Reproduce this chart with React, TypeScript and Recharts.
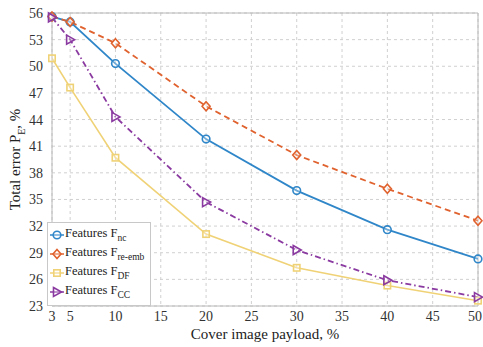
import { CartesianGrid, Line, LineChart, ReferenceLine, XAxis, YAxis } from "recharts";

const payload = [3, 5, 10, 20, 30, 40, 50];
const errNc = [55.6, 55.0, 50.3, 41.8, 36.0, 31.6, 28.3];
const errReEmb = [55.6, 55.0, 52.6, 45.5, 40.0, 36.2, 32.6];
const errDF = [50.9, 47.6, 39.7, 31.1, 27.3, 25.3, 23.6];
const errCC = [55.5, 53.0, 44.3, 34.7, 29.3, 25.9, 24.0];
const xTicks = [3, 5, 10, 15, 20, 25, 30, 35, 40, 45, 50];
const yTicks = [23, 26, 29, 32, 35, 38, 41, 44, 47, 50, 53, 56];

const data = payload.map((p, i) => ({
  payload: p,
  nc: errNc[i],
  reEmb: errReEmb[i],
  df: errDF[i],
  cc: errCC[i],
}));

const FONT = "'Liberation Serif', 'DejaVu Serif', serif";

type Shape = "circle" | "diamond" | "square" | "triangle";

const series: Array<{ key: string; sub: string; color: string; dash?: string; shape: Shape }> = [
  { key: "nc", sub: "nc", color: "#2f86c8", shape: "circle" },
  { key: "reEmb", sub: "re-emb", color: "#e0622e", dash: "6 4", shape: "diamond" },
  { key: "df", sub: "DF", color: "#f0d276", shape: "square" },
  { key: "cc", sub: "CC", color: "#8a3aa0", dash: "6 3 1.5 3", shape: "triangle" },
];

function Marker({ cx, cy, shape, color }: { cx: number; cy: number; shape: Shape; color: string }) {
  if (cx == null || cy == null) return null;
  const common = { fill: "#fff", fillOpacity: 0.3, stroke: color, strokeWidth: 1.6 };
  if (shape === "circle") return <circle cx={cx} cy={cy} r={3.8} {...common} />;
  if (shape === "diamond")
    return <polygon points={`${cx},${cy - 4.5} ${cx + 4},${cy} ${cx},${cy + 4.5} ${cx - 4},${cy}`} {...common} />;
  if (shape === "square") return <rect x={cx - 3.2} y={cy - 3.2} width={6.4} height={6.4} {...common} />;
  return <polygon points={`${cx - 3.5},${cy - 4.5} ${cx + 4.5},${cy} ${cx - 3.5},${cy + 4.5}`} {...common} />;
}

function LegendBox() {
  return (
    <div
      style={{
        position: "absolute",
        left: 47,
        top: 222,
        border: "1px solid #c8c8c8",
        background: "#fff",
        padding: "2px 6px 4px 2px",
        fontFamily: FONT,
        fontSize: 12.5,
        color: "#222",
        whiteSpace: "nowrap",
        lineHeight: 1,
      }}
    >
      {series.map((s) => (
        <div key={s.key} style={{ display: "flex", alignItems: "center", height: 19 }}>
          <svg width={14} height={12} style={{ marginRight: 1 }}>
            <line x1={0} y1={6} x2={14} y2={6} stroke={s.color} strokeWidth={1.5} />
            <Marker cx={7} cy={6} shape={s.shape} color={s.color} />
          </svg>
          <span>
            Features F<sub style={{ fontSize: 9.5, lineHeight: 1 }}>{s.sub}</sub>
          </span>
        </div>
      ))}
    </div>
  );
}

function YLabel({ viewBox }: any) {
  const cx = 20;
  const cy = viewBox ? viewBox.y + viewBox.height / 2 : 160;
  return (
    <text
      x={cx}
      y={cy}
      transform={`rotate(-90 ${cx} ${cy})`}
      textAnchor="middle"
      fontFamily={FONT}
      fontSize={15}
      fill="#222"
    >
      Total error P<tspan fontSize={10} dy={5}>E</tspan>
      <tspan dy={-5}>, %</tspan>
    </text>
  );
}

function XTick({ x, payload: tick }: any) {
  const last = tick.value === 50;
  return (
    <text x={last ? x + 4 : x} y={321} textAnchor={last ? "end" : "middle"} fontFamily={FONT} fontSize={14} fill="#333">
      {tick.value}
    </text>
  );
}

export default function App() {
  return (
    <div style={{ position: "fixed", left: 0, top: 0, width: 483, height: 347, background: "#fff" }}>
      <LineChart width={483} height={347} data={data} margin={{ top: 13, right: 5, left: 0, bottom: 0 }}>
        <CartesianGrid stroke="#d0d0d0" strokeDasharray="3 3" />
        <XAxis
          dataKey="payload"
          type="number"
          domain={[3, 50]}
          ticks={xTicks}
          interval={0}
          height={41}
          tickLine={false}
          axisLine={{ stroke: "#b8b8b8" }}
          tick={<XTick />}
          label={{ value: "Cover image payload, %", position: "insideBottom", offset: 8, fontFamily: FONT, fontSize: 15, fill: "#222" }}
        />
        <YAxis
          type="number"
          domain={[23, 56]}
          ticks={yTicks}
          interval={0}
          width={52}
          tickLine={false}
          axisLine={{ stroke: "#b8b8b8" }}
          tick={{ fontFamily: FONT, fontSize: 14, fill: "#333" }}
          tickMargin={3}
          label={<YLabel />}
        />
        <ReferenceLine y={56} stroke="#b8b8b8" strokeWidth={1} />
        <ReferenceLine x={50} stroke="#b8b8b8" strokeWidth={1} />
        {series.map((s) => (
          <Line
            key={s.key}
            dataKey={s.key}
            stroke={s.color}
            strokeWidth={s.key === "df" ? 1.6 : 1.8}
            strokeDasharray={s.dash}
            isAnimationActive={false}
            dot={(p: any) => <Marker key={`${s.key}-${p.index}`} cx={p.cx} cy={p.cy} shape={s.shape} color={s.color} />}
          />
        ))}
      </LineChart>
      <LegendBox />
    </div>
  );
}
